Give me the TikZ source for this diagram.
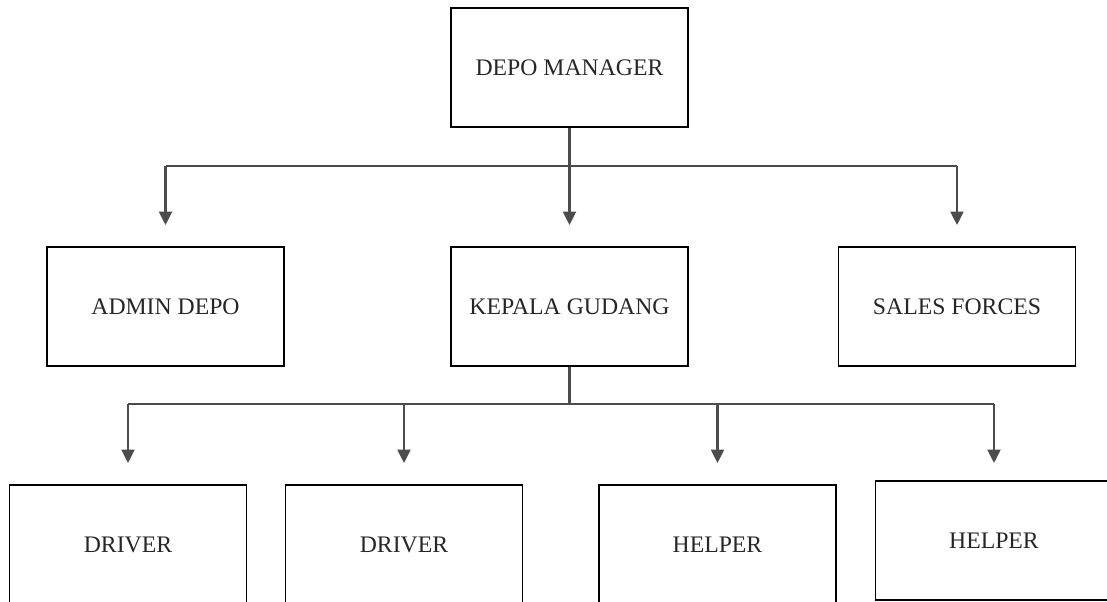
\documentclass[tikz,border=0pt]{standalone}
\usepackage{fontspec}
\setmainfont{Liberation Serif}
\usetikzlibrary{arrows.meta}

\begin{document}
\begin{tikzpicture}[x=0.02cm, y=-0.02cm, >={Triangle[width=0.26cm,length=0.27cm]},
	box/.style={draw, line width=1.1pt, minimum width=4.74cm, minimum height=2.38cm, text=black!85, font=\fontsize{13.5}{16}\selectfont},
	link/.style={draw=black!70, line width=1.2pt},
	arr/.style={link, ->, shorten >=0.42cm}]
	\clip (0,0) rectangle (1107,602);

	% Top level
	\node[box] (manager) at (569.5,67.5) {DEPO MANAGER};

	% Second level
	\node[box] (admin) at (165.5,306.5) {ADMIN DEPO};
	\node[box] (kepala) at (569.5,306.5) {KEPALA GUDANG};
	\node[box] (sales) at (957,306.5) {SALES FORCES};
	\coordinate (busA) at (569.5,166);

	\draw[link] (admin.north |- busA) -- (sales.north |- busA);
	\draw[arr] (manager.south) -- (kepala.north);
	\draw[arr] (admin.north |- busA) -- (admin.north);
	\draw[arr] (sales.north |- busA) -- (sales.north);

	% Third level
	\node[box] (driverA) at (128,544.5) {DRIVER};
	\node[box] (driverB) at (404,544.5) {DRIVER};
	\node[box] (helperA) at (717.5,544.5) {HELPER};
	\node[box] (helperB) at (994,540.5) {HELPER};
	\coordinate (busB) at (569.5,404);

	\draw[link] (kepala.south) -- (busB);
	\draw[link] (driverA.north |- busB) -- (helperB.north |- busB);
	\draw[arr] (driverA.north |- busB) -- (driverA.north);
	\draw[arr] (driverB.north |- busB) -- (driverB.north);
	\draw[arr] (helperA.north |- busB) -- (helperA.north);
	\draw[arr, shorten >=0.34cm] (helperB.north |- busB) -- (helperB.north);
\end{tikzpicture}
\end{document}
